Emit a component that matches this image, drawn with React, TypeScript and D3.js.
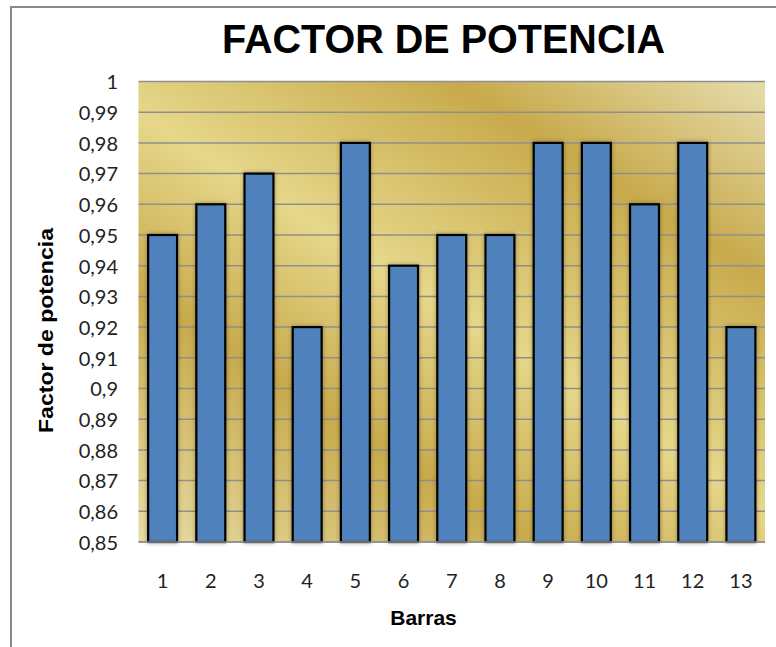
import React from "react";
import * as d3 from "d3";

const categories: string[] = ["1", "2", "3", "4", "5", "6", "7", "8", "9", "10", "11", "12", "13"];
const values: number[] = [0.95, 0.96, 0.97, 0.92, 0.98, 0.94, 0.95, 0.95, 0.98, 0.98, 0.96, 0.98, 0.92];
const yTicks: number[] = [0.85, 0.86, 0.87, 0.88, 0.89, 0.9, 0.91, 0.92, 0.93, 0.94, 0.95, 0.96, 0.97, 0.98, 0.99, 1];
const title = "FACTOR DE POTENCIA";
const xTitle = "Barras";
const yTitle = "Factor de potencia";

const W = 776;
const H = 647;
const plot = { left: 138.5, right: 765, top: 81.5, bottom: 542 };

const fmt = (v: number) => {
  const s = d3.format("~g")(+v.toFixed(2));
  return s.replace(".", ",");
};

export default function App() {
  const x = d3
    .scaleBand<string>()
    .domain(categories)
    .range([plot.left, plot.right])
    .paddingInner(0.4)
    .paddingOuter(0.2);
  const xc = d3.scaleBand<string>().domain(categories).range([plot.left, plot.right]).padding(0);
  const y = d3.scaleLinear().domain([0.85, 1]).range([plot.bottom, plot.top]);

  const tickFont = "Lato, 'Open Sans', sans-serif";
  const boldFont = "'Liberation Sans', Arial, sans-serif";

  return (
    <svg
      width={W}
      height={H}
      style={{ position: "absolute", left: 0, top: 0, background: "#fff" }}
    >
      <defs>
        <linearGradient
          id="gold"
          gradientUnits="userSpaceOnUse"
          x1={180.7}
          y1={-286.8}
          x2={-205.2}
          y2={325.7}
        >
          <stop offset="0" stopColor="#E6DCAC" />
          <stop offset="0.23" stopColor="#C8AA4C" />
          <stop offset="0.5" stopColor="#E6D78A" />
          <stop offset="0.71" stopColor="#C8AA4C" />
          <stop offset="1" stopColor="#E8DDA6" />
        </linearGradient>
        <filter id="shadow" x="-30%" y="-10%" width="160%" height="120%">
          <feDropShadow dx="0" dy="0" stdDeviation="2" floodColor="#000" floodOpacity="0.35" />
        </filter>
      </defs>

      {/* outer frame */}
      <rect x={11} y={7} width={W + 20} height={H + 20} fill="none" stroke="#888" strokeWidth={2} />

      {/* title */}
      <text
        x={443.5}
        y={53}
        textAnchor="middle"
        fontFamily={boldFont}
        fontWeight="bold"
        fontSize={41}
        textLength={443}
        lengthAdjust="spacingAndGlyphs"
        fill="#000"
      >
        {title}
      </text>

      {/* plot background */}
      <rect
        x={plot.left}
        y={plot.top}
        width={plot.right - plot.left}
        height={plot.bottom - plot.top}
        fill="url(#gold)"
      />

      {/* gridlines */}
      {yTicks.map((t) => (
        <line
          key={"g" + t}
          x1={plot.left}
          x2={plot.right}
          y1={y(t)}
          y2={y(t)}
          stroke="#8f8f8f"
          strokeWidth={1.5}
        />
      ))}

      {/* bars */}
      {values.map((v, i) => (
        <rect
          key={"b" + i}
          x={x(categories[i])!}
          y={y(v)}
          width={x.bandwidth()}
          height={y(0.85) - y(v)}
          fill="#4F81BD"
          stroke="#000"
          strokeWidth={2.2}
          filter="url(#shadow)"
        />
      ))}

      {/* bottom axis line */}
      <line x1={plot.left} x2={plot.right} y1={plot.bottom} y2={plot.bottom} stroke="#8f8f8f" strokeWidth={1.5} />

      {/* y tick labels */}
      {yTicks.map((t) => (
        <text
          key={"yl" + t}
          x={118}
          y={y(t) + 7.8}
          textAnchor="end"
          fontFamily={tickFont}
          fontSize={20}
          fill="#222"
        >
          {fmt(t)}
        </text>
      ))}

      {/* x tick labels */}
      {categories.map((c) => (
        <text
          key={"xl" + c}
          x={xc(c)! + xc.bandwidth() / 2}
          y={588}
          textAnchor="middle"
          fontFamily={tickFont}
          fontSize={20}
          fill="#222"
        >
          {c}
        </text>
      ))}

      {/* axis titles */}
      <text
        x={423.5}
        y={625}
        textAnchor="middle"
        fontFamily={boldFont}
        fontWeight="bold"
        fontSize={21}
        fill="#000"
      >
        {xTitle}
      </text>
      <text
        transform={`translate(53,330.5) rotate(-90)`}
        textAnchor="middle"
        fontFamily={boldFont}
        fontWeight="bold"
        fontSize={21}
        textLength={205}
        lengthAdjust="spacingAndGlyphs"
        fill="#000"
      >
        {yTitle}
      </text>
    </svg>
  );
}
